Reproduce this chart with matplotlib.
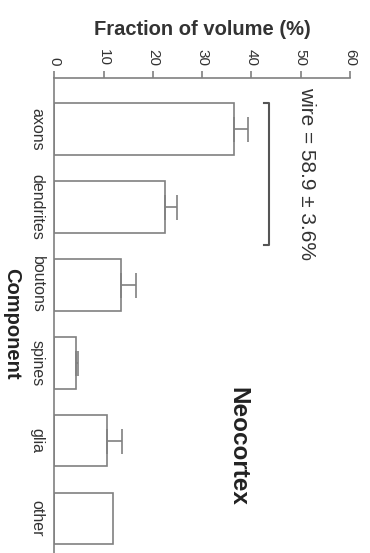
import matplotlib
matplotlib.use('Agg')
import matplotlib.pyplot as plt
import numpy as np

components = ['axons', 'dendrites', 'boutons', 'spines', 'glia', 'other']
fractions = [36.4, 22.4, 13.6, 4.5, 10.6, 12.0]
errors = [2.9, 2.4, 2.9, 0.3, 3.2, 0.0]
wire_text = 'wire = 58.9 \u00b1 3.6%'

plt.rcParams['font.family'] = ['Liberation Sans', 'DejaVu Sans']
grey = '#808080'

fig = plt.figure(figsize=(3.7, 5.53), dpi=100)
ax = fig.add_axes([54.3 / 370, 0.0, (350 - 54.3) / 370, 1 - 78.3 / 553])

pos = np.arange(len(components))
ax.barh(pos, fractions, height=0.66, color='white', edgecolor=grey, linewidth=1.2)
# one-sided error bars
err_pos = [i for i, e in enumerate(errors) if e > 0]
ax.errorbar([fractions[i] for i in err_pos], err_pos,
            xerr=[[0] * len(err_pos), [errors[i] for i in err_pos]],
            fmt='none', ecolor=grey, elinewidth=1.2, capsize=9, capthick=1.2)

ax.set_xlim(0, 60)
ax.set_ylim(5.44, -0.65)
ax.set_xticks(range(0, 61, 10))
ax.set_yticks(pos)
ax.set_yticklabels(components)

ax.xaxis.tick_top()
ax.xaxis.set_label_position('top')
for s in ['right', 'bottom']:
    ax.spines[s].set_visible(False)
for s in ['left', 'top']:
    ax.spines[s].set_color(grey)
    ax.spines[s].set_linewidth(1.2)

ax.tick_params(axis='x', length=5, width=1.2, color=grey, pad=4, labelsize=11,
               labelcolor='#333333')
ax.tick_params(axis='y', length=0, pad=7, labelsize=11.5, labelcolor='#333333')
for t in ax.get_xticklabels():
    t.set_rotation(-90)
    t.set_va('bottom')
    t.set_ha('center')
for t in ax.get_yticklabels():
    t.set_rotation(-90)
    t.set_va('center')
    t.set_ha('right')

ax.set_xlabel('Fraction of volume (%)', fontsize=14.5, fontweight='bold',
              color='#333333', labelpad=10)
ax.set_ylabel('Component', fontsize=14.5, fontweight='bold', rotation=-90,
              color='#222222', ha='center', va='center')
ax.yaxis.set_label_coords(-0.145, 0.482)

# bracket for wire fraction
bx = 43.6
ax.plot([bx - 1, bx, bx, bx - 1], [-0.33, -0.33, 1.49, 1.49], color='#555555', lw=1.5)
ax.text(51.1, 0.57, wire_text, rotation=-90, ha='center', va='center',
        fontsize=15, color='#333333')
ax.text(37.3, 4.07, 'Neocortex', rotation=-90, ha='center', va='center',
        fontsize=17.5, fontweight='bold', color='#222222')

fig.savefig('out.png', dpi=100)
